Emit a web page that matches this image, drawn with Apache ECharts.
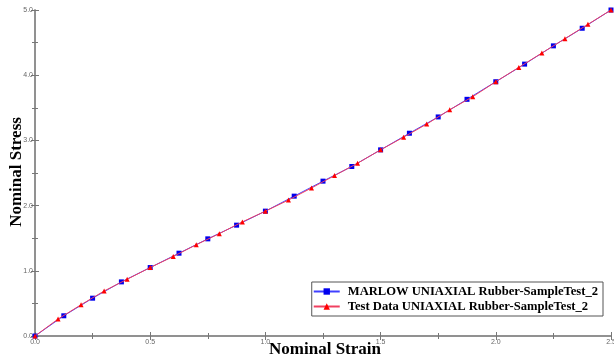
<!DOCTYPE html>
<html>
<head>
<meta charset="utf-8">
<script src="https://cdn.jsdelivr.net/npm/echarts@6/dist/echarts.min.js"></script>
<style>html,body{margin:0;padding:0;background:#fff}#c{width:614px;height:360px}</style>
</head>
<body>
<div id="c"></div>
<script>
const marlowStrain = [0, 0.125, 0.25, 0.375, 0.5, 0.625, 0.75, 0.875, 1.0, 1.125, 1.25, 1.375, 1.5, 1.625, 1.75, 1.875, 2.0, 2.125, 2.25, 2.375, 2.5];
const marlowStress = [0, 0.31, 0.58, 0.83, 1.05, 1.27, 1.49, 1.70, 1.915, 2.145, 2.375, 2.60, 2.855, 3.11, 3.36, 3.63, 3.90, 4.17, 4.45, 4.72, 5.0];
const testStrain = [0, 0.1, 0.2, 0.3, 0.4, 0.5, 0.6, 0.7, 0.8, 0.9, 1.0, 1.1, 1.2, 1.3, 1.4, 1.5, 1.6, 1.7, 1.8, 1.9, 2.0, 2.1, 2.2, 2.3, 2.4, 2.5];
const testStress = [0, 0.26, 0.48, 0.69, 0.87, 1.05, 1.22, 1.40, 1.57, 1.75, 1.915, 2.085, 2.27, 2.46, 2.65, 2.855, 3.05, 3.25, 3.47, 3.67, 3.90, 4.12, 4.34, 4.56, 4.78, 5.0];
const seriesNames = ['MARLOW UNIAXIAL Rubber-SampleTest_2', 'Test Data UNIAXIAL Rubber-SampleTest_2'];
const xTitle = 'Nominal Strain';
const yTitle = 'Nominal Stress';

const chart = echarts.init(document.getElementById('c'), null, {renderer: 'canvas'});
const axisLine = {show: true, lineStyle: {color: '#8a8a8a', width: 1.5}};
const tickFmt = v => v.toFixed(1);
const titleFont = 'bold 17px "Liberation Serif"';
function xAxisDef(pos, labels) {
  return {
    type: 'value', position: pos, min: 0, max: 2.5, interval: 0.5,
    axisLine: axisLine,
    axisTick: {show: true, inside: true, length: 4, lineStyle: {color: '#777'}},
    minorTick: {show: true, splitNumber: 2, length: 3, lineStyle: {color: '#777'}},
    axisLabel: {show: labels, formatter: tickFmt, fontSize: 7, color: '#666', fontFamily: 'Liberation Sans', margin: 3, hideOverlap: false},
    splitLine: {show: false}
  };
}
function yAxisDef(pos, labels) {
  return {
    type: 'value', position: pos, min: 0, max: 5, interval: 1,
    axisLine: axisLine,
    axisTick: {show: true, inside: true, length: 4, lineStyle: {color: '#777'}},
    minorTick: {show: true, splitNumber: 2, length: 3, lineStyle: {color: '#777'}},
    axisLabel: {show: labels, formatter: tickFmt, fontSize: 7, color: '#666', fontFamily: 'Liberation Sans', margin: 2, hideOverlap: false},
    splitLine: {show: false}
  };
}
chart.setOption({
  animation: false,
  backgroundColor: '#fff',
  grid: {left: 35, right: 3, top: 10, bottom: 24, containLabel: false, outerBoundsMode: 'none'},
  xAxis: [xAxisDef('bottom', true), xAxisDef('top', false)],
  yAxis: [yAxisDef('left', true), yAxisDef('right', false)],
  graphic: [
    {type: 'text', x: 325, y: 341, style: {text: xTitle, font: titleFont, fill: '#000', align: 'center', verticalAlign: 'top'}, z: 1},
    {type: 'text', x: 17, y: 172, rotation: Math.PI / 2, style: {text: yTitle, font: titleFont, fill: '#000', align: 'center', verticalAlign: 'middle'}, z: 1}
  ],
  legend: {
    orient: 'vertical', right: 11, bottom: 44,
    backgroundColor: '#fff', borderColor: '#555', borderWidth: 1, borderRadius: 0,
    padding: [3, 5, 3, 1], itemGap: 2, itemWidth: 26, itemHeight: 8,
    textStyle: {fontFamily: 'Liberation Serif', fontWeight: 'bold', fontSize: 12.6, color: '#000', padding: [0, 0, 0, 3]},
    data: seriesNames
  },
  series: [
    {
      name: seriesNames[0], type: 'line',
      data: marlowStrain.map((x, i) => [x, marlowStress[i]]),
      symbol: 'rect', symbolSize: 5, showAllSymbol: true,
      lineStyle: {color: '#4040ff', width: 1},
      itemStyle: {color: '#0000ee'},
      z: 2
    },
    {
      name: seriesNames[1], type: 'line',
      data: testStrain.map((x, i) => [x, testStress[i]]),
      symbol: 'triangle', symbolSize: 5, showAllSymbol: true,
      lineStyle: {color: '#f04060', width: 1},
      itemStyle: {color: '#ff0000'},
      z: 3
    }
  ]
});
</script>
</body>
</html>
